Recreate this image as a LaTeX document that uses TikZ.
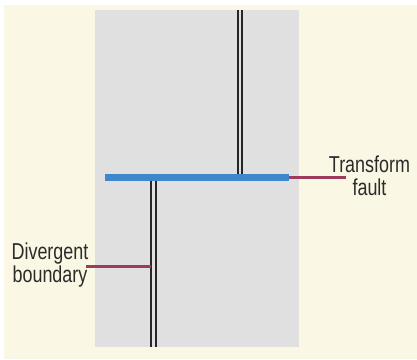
\documentclass[tikz,border=0pt]{standalone}
\usepackage{fontspec}
\setmainfont{Liberation Sans}
\definecolor{cream}{HTML}{FAF8E4}
\definecolor{plate}{HTML}{E0E0E0}
\definecolor{faultblue}{HTML}{3F87CC}
\definecolor{leader}{HTML}{9C3B5B}
\definecolor{labeltext}{HTML}{2B2B2B}
\tikzset{
  ridge/.style={draw=black!85, line width=2.1pt, double=plate, double distance=2.4pt},
  faultline/.style={draw=faultblue, line width=7pt},
  leaderline/.style={draw=leader, line width=3pt},
  lbl/.style={font=\fontsize{23}{22.5}\selectfont, text=labeltext, align=center, inner sep=0pt, xscale=0.78}
}
\begin{document}
\begin{tikzpicture}[x=1pt,y=-1pt]
\useasboundingbox (0,0) rectangle (417,359);
\fill[white] (0,0) rectangle (417,359);
\fill[cream] (4,5) rectangle (417,359);
\fill[plate] (95,10) rectangle (299,347);
% coordinates
\coordinate (upTop) at (240,10);
\coordinate (upBot) at (240,175);
\coordinate (loTop) at (153.5,181);
\coordinate (loBot) at (153.5,347);
\coordinate (tfL) at (105,177.5);
\coordinate (tfR) at (289,177.5);
\coordinate (tfEnd) at (346,177.5);
\coordinate (dbEnd) at (86,266);
\coordinate (dbRidge) at (151,266);
% ridges
\draw[ridge] (upTop) -- (upBot);
\draw[ridge] (loTop) -- (loBot);
% transform fault
\draw[faultline] (tfL) -- (tfR);
% leaders
\draw[leaderline] (tfR) -- (tfEnd);
\draw[leaderline] (dbEnd) -- (dbRidge);
% labels
\node[lbl] (tfLabel) at (369.5,176) {Transform\\fault};
\node[lbl] (dbLabel) at (50,265) {Divergent\\boundary};
\end{tikzpicture}
\end{document}
